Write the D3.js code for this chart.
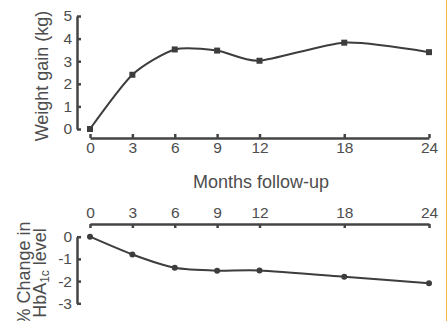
<!DOCTYPE html>
<html>
<head>
<meta charset="utf-8">
<script src="https://cdn.jsdelivr.net/npm/d3@7"></script>
<style>
  body { margin: 0; background: #fff; }
  svg { display: block; font-family: "Liberation Sans", Arial, sans-serif; }
  .axis path, .axis line { stroke: #444; stroke-width: 2.5; }
  .axis text { fill: #4d4d4d; font-size: 15.5px; }
  .label { fill: #4d4d4d; font-size: 18px; }
</style>
</head>
<body>
<svg id="chart" width="447" height="321"></svg>
<script>
// Months of follow-up
const months = [0, 3, 6, 9, 12, 18, 24];
// Weight gain (kg)
const weightGain = [0, 2.4, 3.52, 3.47, 3.02, 3.82, 3.4];
// % change in HbA1c level
const hba1cChange = [0, -0.8, -1.4, -1.53, -1.52, -1.8, -2.1];
const weightTicks = [0, 1, 2, 3, 4, 5];
const hbaTicks = [0, -1, -2, -3];

const svg = d3.select('#chart');
const ink = '#3d3d3d';
const curve = d3.curveCardinal.tension(0.3);
const plain = d => String(d); // keep a short hyphen for negatives

// shared x scale
const x = d3.scaleLinear().domain([0, 24]).range([90, 429]);

// top panel: weight gain
const yTop = d3.scaleLinear().domain([0, 5]).range([129, 16]);

svg.append('g')
  .attr('class', 'axis')
  .attr('transform', 'translate(0,138)')
  .call(d3.axisBottom(x).tickValues(months).tickSizeInner(-4).tickSizeOuter(0).tickPadding(4));

svg.append('g')
  .attr('class', 'axis')
  .attr('transform', 'translate(77,0)')
  .call(d3.axisLeft(yTop).tickValues(weightTicks).tickFormat(plain)
    .tickSizeInner(-4).tickSizeOuter(0).tickPadding(5));

const topData = months.map((m, i) => ({ m, v: weightGain[i] }));

svg.append('path')
  .datum(topData)
  .attr('fill', 'none')
  .attr('stroke', ink)
  .attr('stroke-width', 2)
  .attr('d', d3.line().x(d => x(d.m)).y(d => yTop(d.v)).curve(curve));

svg.selectAll('rect.pt')
  .data(topData)
  .join('rect')
  .attr('class', 'pt')
  .attr('x', d => x(d.m) - 3)
  .attr('y', d => yTop(d.v) - 3)
  .attr('width', 6)
  .attr('height', 6)
  .attr('fill', ink);

svg.append('text')
  .attr('class', 'label')
  .attr('text-anchor', 'middle')
  .attr('transform', 'translate(48,76) rotate(-90)')
  .text('Weight gain (kg)');

svg.append('text')
  .attr('class', 'label')
  .attr('text-anchor', 'middle')
  .attr('x', 261)
  .attr('y', 188)
  .text('Months follow-up');

// bottom panel: HbA1c change
const yBot = d3.scaleLinear().domain([-3, 0]).range([303.3, 236.7]);

svg.append('g')
  .attr('class', 'axis')
  .attr('transform', 'translate(0,224)')
  .call(d3.axisTop(x).tickValues(months).tickSizeInner(-4).tickSizeOuter(0).tickPadding(6));

svg.append('g')
  .attr('class', 'axis')
  .attr('transform', 'translate(77,0)')
  .call(d3.axisLeft(yBot).tickValues(hbaTicks).tickFormat(plain)
    .tickSizeInner(-4).tickSizeOuter(0).tickPadding(5));

const botData = months.map((m, i) => ({ m, v: hba1cChange[i] }));

svg.append('path')
  .datum(botData)
  .attr('fill', 'none')
  .attr('stroke', ink)
  .attr('stroke-width', 2)
  .attr('d', d3.line().x(d => x(d.m)).y(d => yBot(d.v)).curve(curve));

svg.selectAll('circle.pt')
  .data(botData)
  .join('circle')
  .attr('class', 'pt')
  .attr('cx', d => x(d.m))
  .attr('cy', d => yBot(d.v))
  .attr('r', 3)
  .attr('fill', ink);

// two-line label, partly cut by the bottom edge as in the source figure
const hbLabel = svg.append('text')
  .attr('class', 'label')
  .attr('text-anchor', 'middle')
  .attr('transform', 'translate(0,273) rotate(-90)');
hbLabel.append('tspan').attr('x', 0).attr('y', 30).text('% Change in');
const l2 = hbLabel.append('tspan').attr('x', 0).attr('y', 46);
l2.append('tspan').text('HbA');
l2.append('tspan').attr('font-size', '12px').attr('dy', 3).text('1c');
l2.append('tspan').attr('dy', -3).text(' level');

// thin orange border on the right
svg.append('line')
  .attr('x1', 446.5).attr('x2', 446.5)
  .attr('y1', 0).attr('y2', 321)
  .attr('stroke', '#f5b43c')
  .attr('stroke-width', 1);
</script>
</body>
</html>
